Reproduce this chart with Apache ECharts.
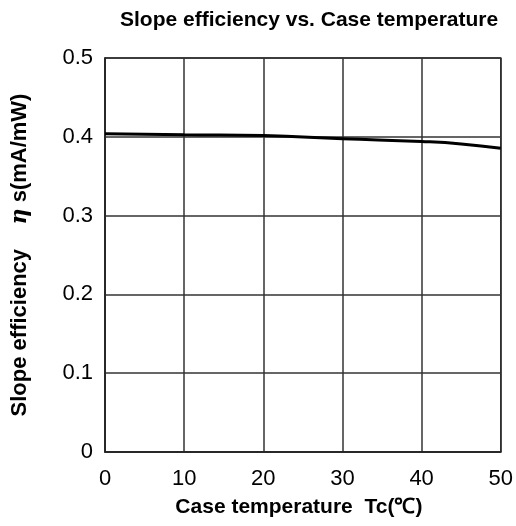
<!DOCTYPE html>
<html>
<head>
<meta charset="utf-8">
<script src="https://cdn.jsdelivr.net/npm/echarts@6/dist/echarts.min.js"></script>
<style>html,body{margin:0;padding:0;background:#fff;}#c{width:516px;height:526px;}</style>
</head>
<body>
<div id="c"></div>
<script>
const caseTemp = [0, 10, 20, 30, 40, 45, 50];
const slopeEff = [0.404, 0.4025, 0.4015, 0.3975, 0.394, 0.391, 0.3855];
const xTicks = [0, 10, 20, 30, 40, 50];
const yTicks = [0, 0.1, 0.2, 0.3, 0.4, 0.5];

const chart = echarts.init(document.getElementById('c'), null, {renderer: 'canvas'});
const font = 'Liberation Sans, Arial, sans-serif';
chart.setOption({
  animation: false,
  backgroundColor: '#fff',
  title: {
    text: 'Slope efficiency vs. Case temperature',
    left: 115, top: 5,
    textStyle: {fontFamily: font, fontSize: 21, fontWeight: 'bold', color: '#000'}
  },
  grid: {left: 105, right: 15, top: 58, bottom: 74, show: true, borderColor: '#222', borderWidth: 1.5},
  xAxis: {
    type: 'value', min: 0, max: 50, interval: 10,
    name: 'Case temperature  Tc(℃)', nameLocation: 'middle', nameGap: 45,
    nameTextStyle: {fontFamily: font, fontSize: 21, fontWeight: 'bold', color: '#000', padding: [0, 8, 0, 0]},
    axisLine: {lineStyle: {color: '#222', width: 1.5}},
    axisTick: {show: false},
    axisLabel: {fontFamily: font, fontSize: 22, color: '#000', margin: 16,
      formatter: v => xTicks.includes(v) ? String(v) : ''},
    splitLine: {lineStyle: {color: '#333', width: 1.5}}
  },
  yAxis: {
    type: 'value', min: 0, max: 0.5, interval: 0.1,
    name: '{a|Slope efficiency    }{b|η}{a| s(mA/mW)}', nameLocation: 'middle', nameGap: 74, nameRotate: 90,
    nameTextStyle: {fontFamily: font, fontSize: 22, fontWeight: 'bold', color: '#000',
      rich: {a: {fontFamily: font, fontSize: 22, fontWeight: 'bold', color: '#000'},
             b: {fontFamily: 'DejaVu Serif, serif', fontSize: 22, fontStyle: 'italic', fontWeight: 'bold', color: '#000'}}},
    axisLine: {show: true, lineStyle: {color: '#222', width: 1.5}},
    axisTick: {show: false},
    axisLabel: {fontFamily: font, fontSize: 22, color: '#000', margin: 12,
      formatter: v => { const t = yTicks.find(y => Math.abs(y - v) < 1e-9); return t === undefined ? '' : (t === 0 ? '0' : t.toFixed(1)); }},
    splitLine: {lineStyle: {color: '#333', width: 1.5}}
  },
  series: [{
    type: 'line', smooth: true, symbol: 'none',
    data: caseTemp.map((t, i) => [t, slopeEff[i]]),
    lineStyle: {color: '#000', width: 3}
  }]
});
</script>
</body>
</html>
